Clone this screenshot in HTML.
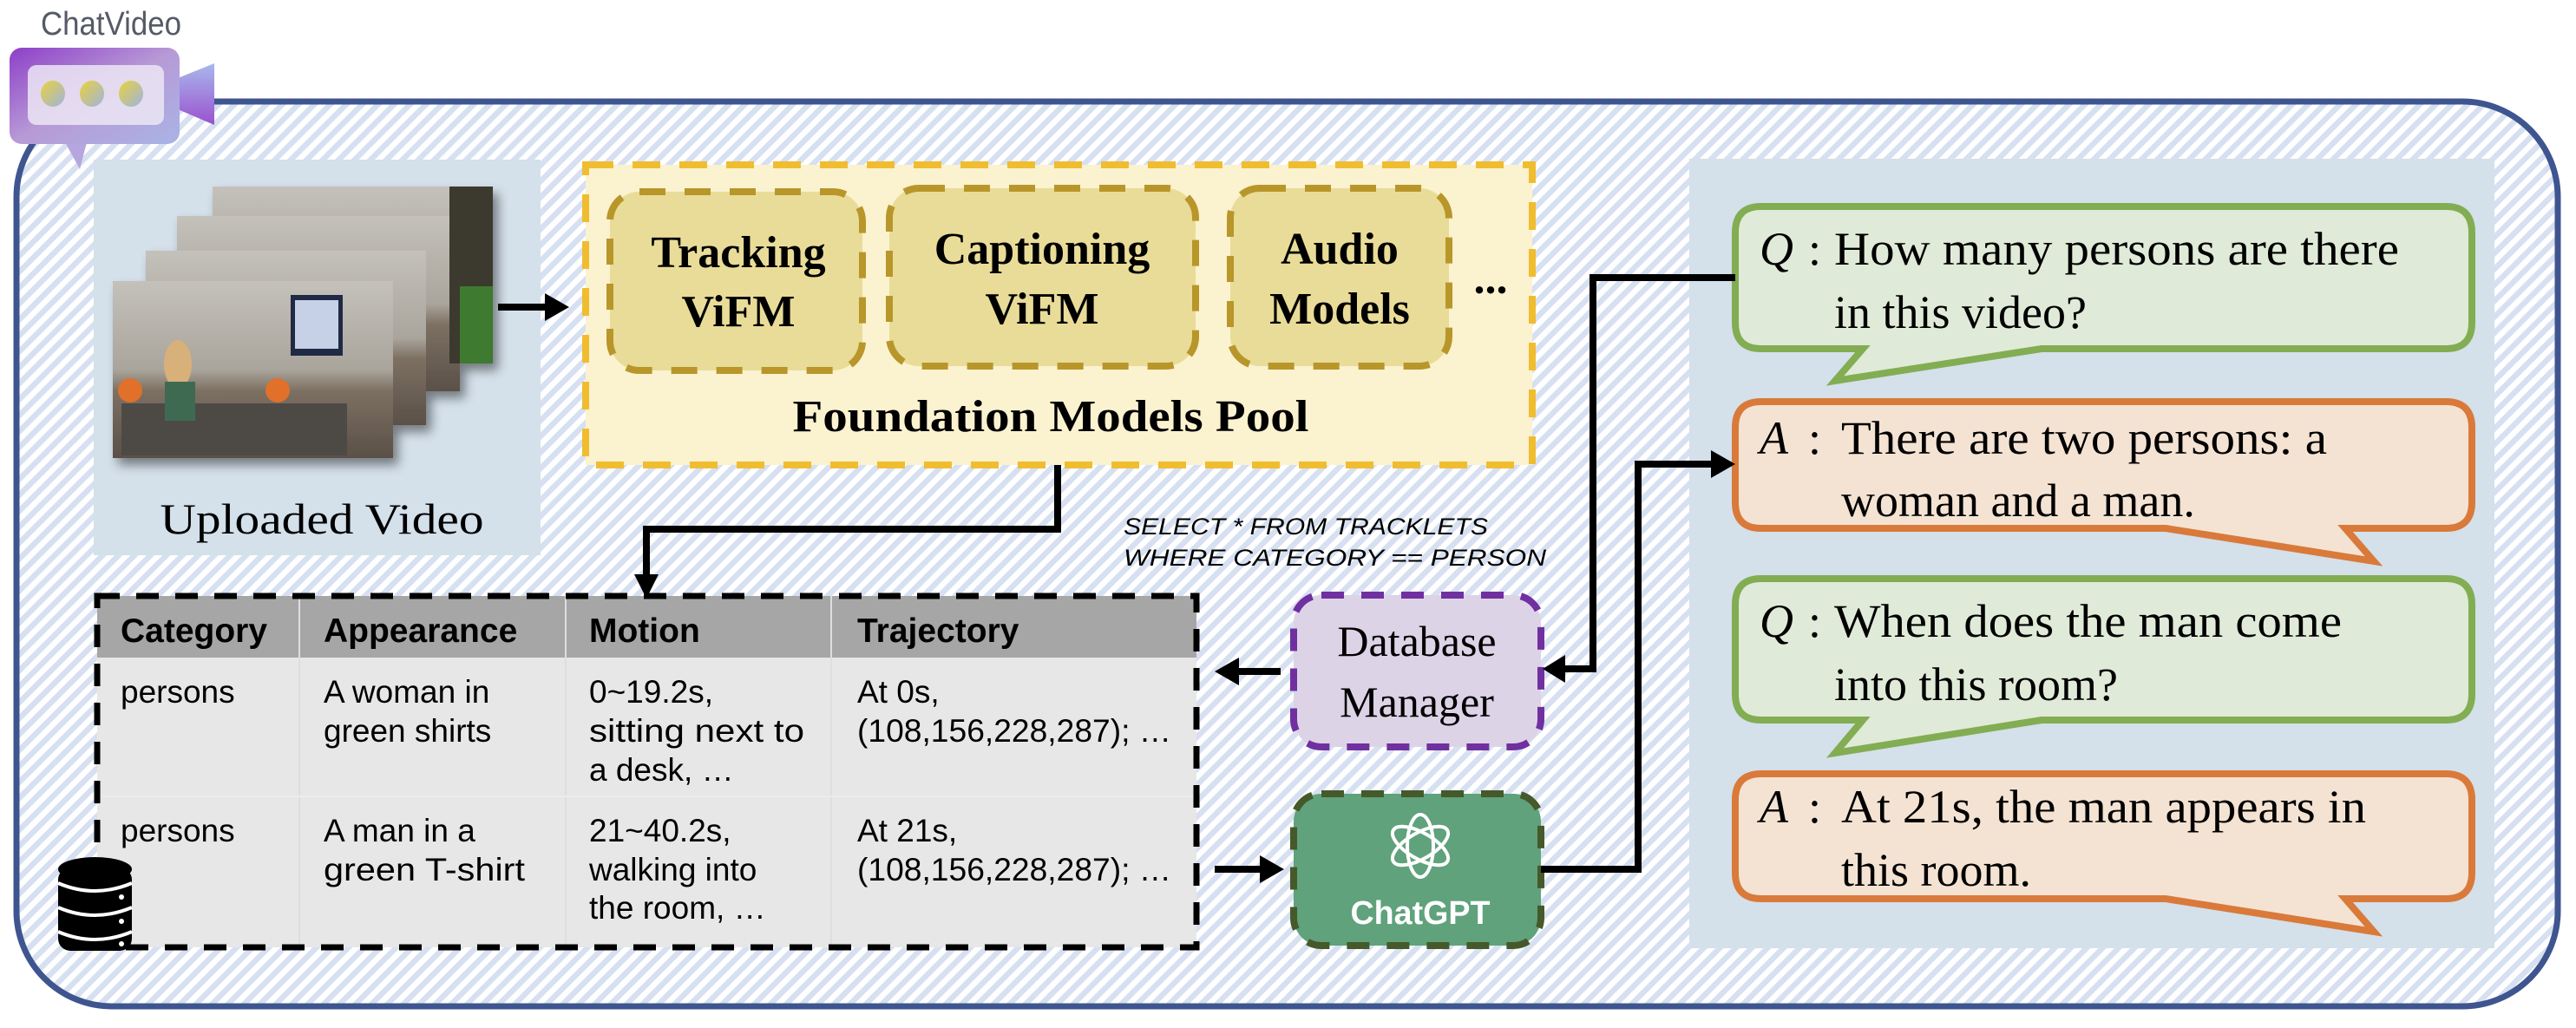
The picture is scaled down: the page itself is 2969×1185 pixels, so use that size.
<!DOCTYPE html>
<html><head><meta charset="utf-8"><style>
html,body{margin:0;padding:0;background:#fff;}
svg{display:block;}
</style></head><body>
<svg width="2969" height="1185" viewBox="0 0 2969 1185" xmlns="http://www.w3.org/2000/svg">
<defs>
<pattern id="st" patternUnits="userSpaceOnUse" width="13" height="13" patternTransform="rotate(45)">
<rect width="13" height="13" fill="#ffffff"/><rect width="6.5" height="13" fill="#d6e0f1"/>
</pattern>
<linearGradient id="cam" x1="0" y1="0" x2="1" y2="1">
<stop offset="0" stop-color="#8e3fc8"/><stop offset="0.5" stop-color="#b79ad6"/><stop offset="1" stop-color="#a9b4e6"/>
</linearGradient>
<linearGradient id="camt" x1="0" y1="0" x2="0" y2="1">
<stop offset="0" stop-color="#a9b8ec"/><stop offset="1" stop-color="#9a52cf"/>
</linearGradient>
<linearGradient id="dot" x1="0" y1="0" x2="1" y2="1">
<stop offset="0" stop-color="#e8d23a"/><stop offset="1" stop-color="#9fb4e0"/>
</linearGradient>
<linearGradient id="frame" x1="0" y1="0" x2="0" y2="1">
<stop offset="0" stop-color="#c4c1bb"/><stop offset="0.5" stop-color="#aaa59c"/><stop offset="0.62" stop-color="#7d7062"/><stop offset="1" stop-color="#5a5048"/>
</linearGradient>
<filter id="sh" x="-20%" y="-20%" width="150%" height="150%"><feDropShadow dx="6" dy="8" stdDeviation="6" flood-color="#000" flood-opacity="0.45"/></filter>
</defs>

<rect x="19" y="117" width="2929" height="1043" rx="110" ry="110" fill="url(#st)" stroke="#3f5590" stroke-width="7"/>

<text x="47" y="40" font-family="Liberation Sans, sans-serif" font-size="38" fill="#555a66" textLength="162" lengthAdjust="spacingAndGlyphs">ChatVideo</text>
<polygon points="205,90 247,73 247,144 205,126" fill="url(#camt)"/>
<path d="M75,164 L92,195 L100,164 Z" fill="#b6a6e0"/>
<rect x="11" y="55" width="196" height="111" rx="14" fill="url(#cam)"/>
<rect x="32" y="75" width="157" height="69" rx="10" fill="#ece6f4" opacity="0.85"/>
<ellipse cx="61" cy="108" rx="14" ry="15" fill="url(#dot)"/>
<ellipse cx="106" cy="108" rx="14" ry="15" fill="url(#dot)"/>
<ellipse cx="151" cy="108" rx="14" ry="15" fill="url(#dot)"/>

<rect x="108" y="184" width="515" height="456" fill="#d4e0ea"/>
<g filter="url(#sh)">
<rect x="245" y="215" width="323" height="204" fill="url(#frame)"/>
<rect x="204" y="249" width="326" height="202" fill="url(#frame)"/>
<rect x="168" y="289" width="323" height="201" fill="url(#frame)"/>
<rect x="130" y="324" width="323" height="204" fill="url(#frame)"/>
</g>
<rect x="518" y="215" width="50" height="204" fill="#3c3a2e"/>
<rect x="530" y="330" width="38" height="89" fill="#3e7a30"/>
<rect x="335" y="340" width="60" height="70" fill="#1f2a44"/>
<rect x="340" y="346" width="50" height="56" fill="#c6d0e6"/>
<rect x="140" y="465" width="260" height="60" fill="#4d4a45"/>
<circle cx="320" cy="450" r="14" fill="#e0702a"/>
<circle cx="150" cy="450" r="14" fill="#e0702a"/>
<ellipse cx="205" cy="420" rx="16" ry="28" fill="#d8b07a"/>
<rect x="190" y="440" width="35" height="45" fill="#3f6a52"/>
<text x="371" y="615" font-family="Liberation Serif, serif" font-size="50" text-anchor="middle" textLength="373" lengthAdjust="spacingAndGlyphs">Uploaded Video</text>

<rect x="675" y="190" width="1091" height="346" fill="#fbf2cf" stroke="#f0bd30" stroke-width="8" stroke-dasharray="32,22"/>
<rect x="703" y="221" width="291" height="206" rx="34" fill="#e8dc98" stroke="#b8962a" stroke-width="8" stroke-dasharray="30,22"/>
<rect x="1025" y="217" width="353" height="205" rx="34" fill="#e8dc98" stroke="#b8962a" stroke-width="8" stroke-dasharray="30,22"/>
<rect x="1418" y="217" width="252" height="205" rx="34" fill="#e8dc98" stroke="#b8962a" stroke-width="8" stroke-dasharray="30,22"/>
<g font-family="Liberation Serif, serif" font-weight="bold" font-size="52" text-anchor="middle">
<text x="851" y="308">Tracking</text><text x="851" y="376">ViFM</text>
<text x="1201" y="304">Captioning</text><text x="1201" y="373">ViFM</text>
<text x="1544" y="304">Audio</text><text x="1544" y="373">Models</text>
<text x="1718" y="338">...</text>
<text x="1211" y="497" textLength="595" lengthAdjust="spacingAndGlyphs">Foundation Models Pool</text>
</g>

<g font-family="Liberation Sans, sans-serif" font-style="italic" font-size="27">
<text x="1295" y="616" textLength="420" lengthAdjust="spacingAndGlyphs">SELECT * FROM TRACKLETS</text>
<text x="1295" y="652" textLength="487" lengthAdjust="spacingAndGlyphs">WHERE CATEGORY == PERSON</text>
</g>

<rect x="112" y="687" width="1267" height="405" fill="#e7e7e7"/>
<rect x="112" y="687" width="1267" height="71" fill="#a6a6a6"/>
<line x1="345" y1="687" x2="345" y2="1092" stroke="#dedede" stroke-width="2"/>
<line x1="652" y1="687" x2="652" y2="1092" stroke="#dedede" stroke-width="2"/>
<line x1="958" y1="687" x2="958" y2="1092" stroke="#dedede" stroke-width="2"/>
<line x1="112" y1="918" x2="1379" y2="918" stroke="#ececec" stroke-width="2"/>
<rect x="112" y="687" width="1267" height="405" fill="none" stroke="#000" stroke-width="7" stroke-dasharray="26,19"/>
<g font-family="Liberation Sans, sans-serif" font-weight="bold" font-size="39">
<text x="139" y="740">Category</text><text x="373" y="740">Appearance</text><text x="679" y="740">Motion</text><text x="988" y="740">Trajectory</text>
</g>
<g font-family="Liberation Sans, sans-serif" font-size="37">
<text x="139" y="810">persons</text>
<text x="373" y="810">A woman in</text><text x="373" y="855">green shirts</text>
<text x="679" y="810">0~19.2s,</text><text x="679" y="855" textLength="248" lengthAdjust="spacingAndGlyphs">sitting next to</text><text x="679" y="900">a desk, …</text>
<text x="988" y="810">At 0s,</text><text x="988" y="855" textLength="362" lengthAdjust="spacingAndGlyphs">(108,156,228,287); …</text>
<text x="139" y="970">persons</text>
<text x="373" y="970">A man in a</text><text x="373" y="1015" textLength="232" lengthAdjust="spacingAndGlyphs">green T-shirt</text>
<text x="679" y="970">21~40.2s,</text><text x="679" y="1015">walking into</text><text x="679" y="1059">the room, …</text>
<text x="988" y="970">At 21s,</text><text x="988" y="1015" textLength="362" lengthAdjust="spacingAndGlyphs">(108,156,228,287); …</text>
</g>

<g>
<rect x="67" y="1000" width="85" height="96" rx="14" fill="#000"/>
<ellipse cx="109.5" cy="1002" rx="42.5" ry="14" fill="#000"/>
<path d="M67,1018 Q109,1036 152,1018" stroke="#fff" stroke-width="4" fill="none"/>
<path d="M67,1046 Q109,1064 152,1046" stroke="#fff" stroke-width="4" fill="none"/>
<path d="M67,1074 Q109,1092 152,1074" stroke="#fff" stroke-width="4" fill="none"/>
<circle cx="140" cy="1034" r="3" fill="#fff"/><circle cx="140" cy="1062" r="3" fill="#fff"/><circle cx="140" cy="1088" r="3" fill="#fff"/>
</g>

<rect x="1491" y="686" width="285" height="175" rx="32" fill="#ddd3e6" stroke="#7030a0" stroke-width="8" stroke-dasharray="26,20"/>
<g font-family="Liberation Serif, serif" font-size="50" text-anchor="middle">
<text x="1633" y="756">Database</text><text x="1633" y="826">Manager</text>
</g>

<rect x="1491" y="915" width="285" height="175" rx="32" fill="#5fa27c" stroke="#45592a" stroke-width="8" stroke-dasharray="26,20"/>
<g stroke="#fff" stroke-width="4" fill="none" transform="translate(1637,975)">
<ellipse rx="15" ry="36" />
<ellipse rx="15" ry="36" transform="rotate(60)"/>
<ellipse rx="15" ry="36" transform="rotate(120)"/>
</g>
<text x="1637" y="1065" font-family="Liberation Sans, sans-serif" font-weight="bold" font-size="38" fill="#fff" text-anchor="middle" textLength="161" lengthAdjust="spacingAndGlyphs">ChatGPT</text>

<rect x="1947" y="183" width="928" height="910" fill="#d4e0ea"/>
<path d="M2030,238 H2819 Q2849,238 2849,268 V372 Q2849,402 2819,402 H2353 L2115,439 L2147,402 H2030 Q2000,402 2000,372 V268 Q2000,238 2030,238 Z" fill="#e0ead8" stroke="#82ad52" stroke-width="8"/>
<path d="M2030,463 H2819 Q2849,463 2849,493 V579 Q2849,609 2819,609 H2703 L2736,647 L2496,609 H2030 Q2000,609 2000,579 V493 Q2000,463 2030,463 Z" fill="#f4e3d3" stroke="#d97a3a" stroke-width="8"/>
<path d="M2030,667 H2819 Q2849,667 2849,697 V800 Q2849,830 2819,830 H2353 L2115,868 L2147,830 H2030 Q2000,830 2000,800 V697 Q2000,667 2030,667 Z" fill="#e0ead8" stroke="#82ad52" stroke-width="8"/>
<path d="M2030,892 H2819 Q2849,892 2849,922 V1006 Q2849,1036 2819,1036 H2703 L2736,1074 L2496,1036 H2030 Q2000,1036 2000,1006 V922 Q2000,892 2030,892 Z" fill="#f4e3d3" stroke="#d97a3a" stroke-width="8"/>
<g font-family="Liberation Serif, serif" font-size="54">
<text x="2028" y="305" font-style="italic">Q</text><text x="2084" y="305">:</text>
<text x="2114" y="305" textLength="651" lengthAdjust="spacingAndGlyphs">How many persons are there</text>
<text x="2114" y="378">in this video?</text>
<text x="2028" y="523" font-style="italic">A</text><text x="2084" y="523">:</text>
<text x="2122" y="523" textLength="560" lengthAdjust="spacingAndGlyphs">There are two persons: a</text>
<text x="2122" y="595">woman and a man.</text>
<text x="2028" y="734" font-style="italic">Q</text><text x="2084" y="734">:</text>
<text x="2114" y="734" textLength="585" lengthAdjust="spacingAndGlyphs">When does the man come</text>
<text x="2114" y="807">into this room?</text>
<text x="2028" y="948" font-style="italic">A</text><text x="2084" y="948">:</text>
<text x="2122" y="948" textLength="605" lengthAdjust="spacingAndGlyphs">At 21s, the man appears in</text>
<text x="2122" y="1021">this room.</text>
</g>

<g stroke="#000" stroke-width="8" fill="none" stroke-linejoin="miter">
<polyline points="574,354 632,354"/>
<polyline points="1219,536 1219,610 745,610 745,664"/>
<polyline points="1476,774 1424,774"/>
<polyline points="1400,1002 1456,1002"/>
<polyline points="2000,320 1836,320 1836,771 1800,771"/>
<polyline points="1776,1002 1888,1002 1888,535 1976,535"/>
</g>
<g fill="#000">
<polygon points="628,338 656,354 628,370"/>
<polygon points="731,662 759,662 745,690"/>
<polygon points="1428,758 1400,774 1428,790"/>
<polygon points="1452,986 1480,1002 1452,1018"/>
<polygon points="1804,755 1778,771 1804,787"/>
<polygon points="1972,519 2000,535 1972,551"/>
</g>
</svg>
</body></html>
